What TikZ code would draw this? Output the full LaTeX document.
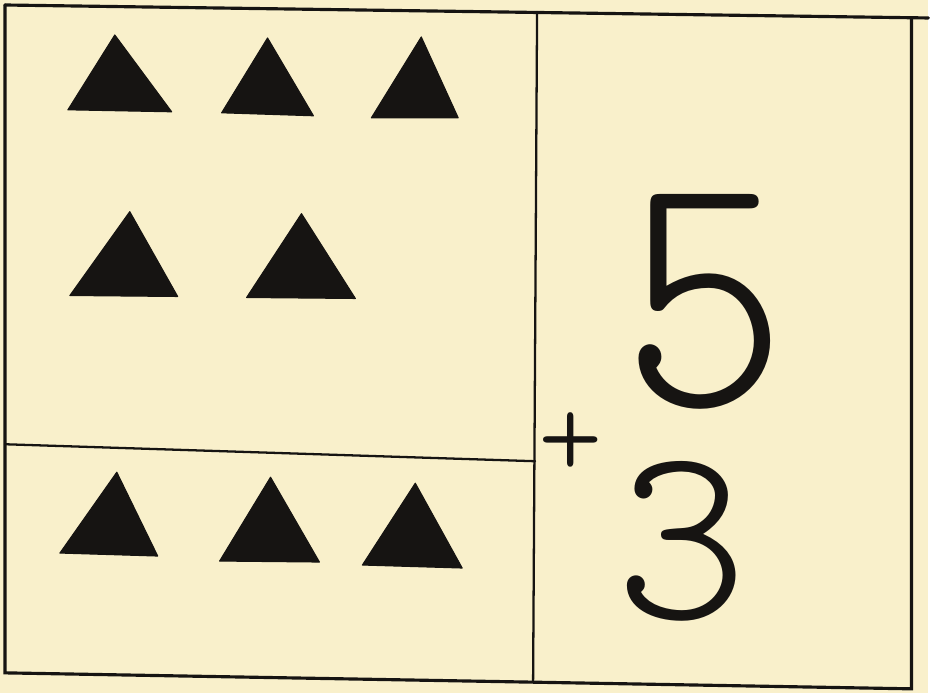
\documentclass[tikz,border=0pt]{standalone}
\usepackage{fontspec}
\newfontfamily\handfont{lmmonolt10-regular.otf}
\definecolor{paper}{RGB}{249,240,203}
\definecolor{ink}{RGB}{22,20,18}
\tikzset{
  frameline/.style={draw=ink, line width=1.8pt},
  gridline/.style={draw=ink, line width=1.3pt},
  tri/.style={fill=ink, draw=ink, line width=0.6pt, line join=round},
  hand/.style={inner sep=0pt, text=ink, anchor=center},
}
\begin{document}
\begin{tikzpicture}[x=0.02cm, y=-0.02cm, line cap=round]
	\fill[paper] (0,0) rectangle (930,694);
	
	% frame corners
	\coordinate (TL) at (5,5);
	\coordinate (TR) at (930,18);
	\coordinate (RT) at (913,18);
	\coordinate (BR) at (913,690);
	\coordinate (BL) at (5,674);
	\coordinate (MT) at (538,12);
	\coordinate (MB) at (534,683);
	\coordinate (DL) at (5,445);
	\coordinate (DR) at (536,462);
	
	\draw[frameline] (TL) -- (TR);
	\draw[frameline] (TL) -- (BL) -- (BR) -- (RT);
	\draw[gridline] (MT) -- (MB);
	\draw[gridline] (DL) -- (DR);
	
	% triangles: apex / base left / base right
	\foreach \ax/\ay/\lx/\ly/\rx/\ry in {
		115/35/68/110/172/112, 268/38/222/113/314/116, 422/37/372/118/459/118,
		130/212/70/296/178/297, 302/214/247/298/356/299,
		117/473/60/554/158/557, 271/478/220/562/320/563, 416/484/363/566/463/569}
		\fill[tri] (\ax,\ay) -- (\lx,\ly) -- (\rx,\ry) -- cycle;
	
	% sum
	\node[hand, font=\handfont\fontsize{197}{197}\selectfont, xscale=0.92] (five) at (706,302) {5};
	\node[hand, font=\handfont\fontsize{144}{144}\selectfont] (three) at (683,542) {3};
	\node[hand, font=\handfont\fontsize{70}{70}\selectfont] (plus) at (572,446) {+};
\end{tikzpicture}
\end{document}
